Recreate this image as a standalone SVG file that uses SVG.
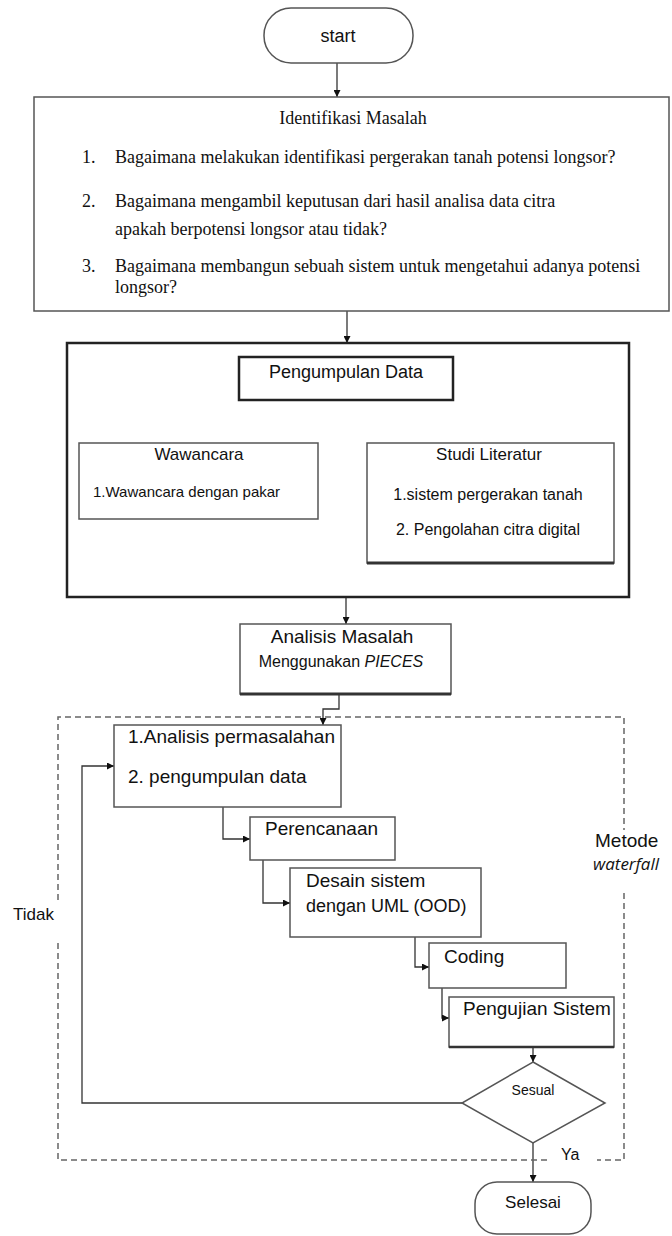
<svg xmlns="http://www.w3.org/2000/svg" width="672" height="1236" viewBox="0 0 672 1236">
<style>
  .box{fill:#fff;stroke:#555;stroke-width:1.5}
  .bold{fill:#fff;stroke:#222;stroke-width:2.5}
  .ln{fill:none;stroke:#333;stroke-width:1.3}
  .dash{fill:none;stroke:#666;stroke-width:1.5;stroke-dasharray:6 4}
  .serif{font-family:"Liberation Serif","Times New Roman",serif;font-size:18px;fill:#111}
  .sans{font-family:"Liberation Sans",Arial,sans-serif;fill:#111}
  .c{text-anchor:middle}
</style>
<defs>
  <marker id="ah" viewBox="0 0 10 10" refX="10" refY="5" markerWidth="7" markerHeight="7" orient="auto" markerUnits="userSpaceOnUse">
    <path d="M0,0 L10,5 L0,10 z" fill="#111"/>
  </marker>
</defs>

<g id="connectors">
  <path class="ln" d="M337,63 L337,97" marker-end="url(#ah)"/>
  <path class="ln" d="M347,310 L347,343" marker-end="url(#ah)"/>
  <path class="ln" d="M340,401 L203,443" marker-end="url(#ah)"/>
  <path class="ln" d="M340,401 L476,443" marker-end="url(#ah)"/>
  <path class="ln" d="M346,597 L346,624" marker-end="url(#ah)"/>
  <path class="ln" d="M339,694 L339,709 L323,709 L323,725" marker-end="url(#ah)"/>
  <path class="ln" d="M223,807 L223,839 L250,839" marker-end="url(#ah)"/>
  <path class="ln" d="M263,860 L263,903 L290,903" marker-end="url(#ah)"/>
  <path class="ln" d="M415,937 L415,967 L429,967" marker-end="url(#ah)"/>
  <path class="ln" d="M442,988 L442,1018 L449,1018" marker-end="url(#ah)"/>
  <path class="ln" d="M533,1047 L533,1062" marker-end="url(#ah)"/>
  <path class="ln" d="M533,1143 L533,1182" marker-end="url(#ah)"/>
  <path class="ln" stroke-width="1.6" d="M462,1103 L82,1103 L82,766 L114,766" marker-end="url(#ah)"/>
</g>

<g id="waterfall-frame">
  <path class="dash" d="M58,900 L58,717 L624,717 L624,830"/>
  <path class="dash" d="M624,893 L624,1160 L597,1160"/>
  <path class="dash" d="M547,1160 L58,1160 L58,942"/>
  <text class="sans" x="595" y="847" font-size="19">Metode</text>
  <text x="593" y="870" font-family="'Open Sans','DejaVu Sans',sans-serif" font-style="italic" font-size="17" fill="#111">waterfall</text>
</g>

<g id="start">
  <rect class="box" x="264" y="8" width="149" height="55" rx="27"/>
  <text class="sans c" x="338" y="42" font-size="18">start</text>
</g>

<g id="identifikasi">
  <rect class="box" x="34" y="97" width="635" height="214"/>
  <text class="serif c" x="353" y="124" font-size="19">Identifikasi Masalah</text>
  <text class="serif" x="82" y="163">1.</text>
  <text class="serif" x="115" y="163">Bagaimana melakukan identifikasi pergerakan tanah potensi longsor?</text>
  <text class="serif" x="82" y="207">2.</text>
  <text class="serif" x="115" y="207">Bagaimana mengambil keputusan dari hasil analisa data citra</text>
  <text class="serif" x="115" y="235">apakah berpotensi longsor atau tidak?</text>
  <text class="serif" x="82" y="272">3.</text>
  <text class="serif" x="115" y="272">Bagaimana membangun sebuah sistem untuk mengetahui adanya potensi</text>
  <text class="serif" x="115" y="293">longsor?</text>
</g>

<g id="pengumpulan-group">
  <rect class="bold" x="67" y="343" width="562" height="254"/>
</g>

<g id="pengumpulan">
  <rect class="bold" x="239" y="357" width="214" height="43" stroke-width="3"/>
  <text class="sans c" x="346" y="378" font-size="18">Pengumpulan Data</text>
</g>

<g id="wawancara">
  <rect class="box" x="79" y="443" width="239" height="76"/>
  <text class="sans c" x="199" y="460" font-size="17">Wawancara</text>
  <text class="sans" x="93" y="497" font-size="15">1.Wawancara dengan pakar</text>
</g>

<g id="studi">
  <rect class="box" x="367" y="443" width="247" height="120"/>
  <line x1="367" y1="563" x2="614" y2="563" stroke="#333" stroke-width="3"/>
  <text class="sans c" x="489" y="460" font-size="17">Studi Literatur</text>
  <text class="sans c" x="488" y="500" font-size="16">1.sistem pergerakan tanah</text>
  <text class="sans c" x="488" y="535" font-size="16">2. Pengolahan citra digital</text>
</g>

<g id="analisis">
  <rect class="box" x="240" y="624" width="211" height="70"/>
  <line x1="240" y1="694" x2="451" y2="694" stroke="#333" stroke-width="3"/>
  <text class="sans c" x="342" y="643" font-size="19">Analisis Masalah</text>
  <text class="sans c" x="341" y="667" font-size="16">Menggunakan <tspan font-style="italic">PIECES</tspan></text>
</g>

<g id="analisis-permasalahan">
  <rect class="box" x="114" y="725" width="227" height="82"/>
  <text class="sans" x="128" y="743" font-size="19">1.Analisis permasalahan</text>
  <text class="sans" x="128" y="783" font-size="19">2. pengumpulan data</text>
</g>

<g id="perencanaan">
  <rect class="box" x="250" y="817" width="145" height="43"/>
  <text class="sans" x="265" y="835" font-size="19">Perencanaan</text>
</g>

<g id="desain">
  <rect class="box" x="290" y="868" width="191" height="69"/>
  <text class="sans" x="306" y="887" font-size="19">Desain sistem</text>
  <text class="sans" x="306" y="912" font-size="18">dengan UML (OOD)</text>
</g>

<g id="coding">
  <rect class="box" x="429" y="943" width="137" height="45"/>
  <text class="sans" x="444" y="963" font-size="19">Coding</text>
</g>

<g id="pengujian">
  <rect class="box" x="449" y="997" width="165" height="50"/>
  <line x1="449" y1="1047" x2="614" y2="1047" stroke="#333" stroke-width="2.5"/>
  <text class="sans" x="463" y="1015" font-size="19">Pengujian Sistem</text>
</g>

<g id="sesuai">
  <polygon class="box" points="533,1062 605,1103 533,1143 462,1103"/>
  <text class="sans c" x="533" y="1095" font-size="14">Sesual</text>
</g>

<g id="selesai">
  <rect class="box" x="475" y="1182" width="116" height="52" rx="22"/>
  <text class="sans c" x="533" y="1208" font-size="17">Selesai</text>
</g>

<g id="labels">
  <text class="sans" x="13" y="920" font-size="17">Tidak</text>
  <text class="sans" x="561" y="1160" font-size="16">Ya</text>
</g>
</svg>
